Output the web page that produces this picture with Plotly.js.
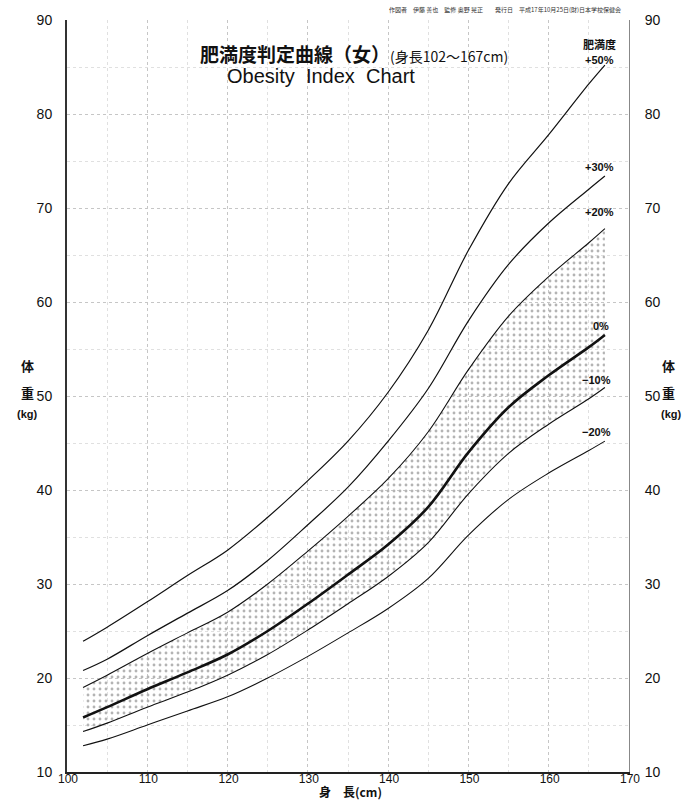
<!DOCTYPE html>
<html>
<head>
<meta charset="utf-8">
<script src="https://cdn.plot.ly/plotly-3.0.1.min.js"></script>
<style>
html,body{margin:0;padding:0;background:#fff;}
#chart{width:694px;height:802px;}
</style>
</head>
<body>
<div id="chart"></div>
<script>
// Heights (cm)
const heights = [102,105,110,115,120,125,130,135,140,145,150,155,160,165,167];
// Weights (kg) for each obesity-degree curve
const plus50  = [23.9,25.4,28.1,30.9,33.6,37.1,41.0,45.2,50.4,57.0,65.5,72.6,77.8,83.2,85.2];
const plus30  = [20.8,22.0,24.5,26.9,29.3,32.5,36.3,40.3,45.2,50.8,58.0,64.0,68.4,72.0,73.4];
const plus20  = [19.0,20.3,22.6,24.8,27.0,30.0,33.5,37.2,41.2,46.2,52.8,58.5,62.7,66.3,67.8];
const zero    = [15.8,16.9,18.8,20.6,22.5,25.0,27.9,31.0,34.2,38.2,44.0,48.8,52.2,55.2,56.5];
const minus10 = [14.3,15.2,16.9,18.5,20.3,22.5,25.1,27.9,30.8,34.4,39.6,43.9,47.0,49.7,50.9];
const minus20 = [12.8,13.5,15.0,16.5,18.0,20.0,22.3,24.8,27.4,30.6,35.2,39.0,41.8,44.2,45.2];
const curveLabels = ['+50%','+30%','+20%','0%','\u221210%','\u221220%'];
const xTicks = [100,110,120,130,140,150,160,170];
const yTicks = [10,20,30,40,50,60,70,80,90];

const jp = '"Noto Sans CJK JP", "Noto Sans", sans-serif';
const ar = 'Arial, "Liberation Sans", sans-serif';

function line(y, w, name){
  return {x: heights, y: y, mode:'lines', name: name, hoverinfo:'skip',
    line:{color:'#111', width:w, shape:'spline', smoothing:1}};
}
const traces = [
  // shaded band (+20% to -10%)
  {x: heights, y: plus20, mode:'lines', line:{width:0, shape:'spline', smoothing:1}, hoverinfo:'skip', showlegend:false},
  {x: heights, y: minus10, mode:'lines', line:{width:0, shape:'spline', smoothing:1}, hoverinfo:'skip', showlegend:false,
   fill:'tonexty', fillcolor:'rgba(255,255,255,0)',
   fillpattern:{shape:'.', size:6, solidity:0.18, fgcolor:'#b4b4b4', bgcolor:'rgba(255,255,255,0)'}},
  line(plus50, 1.2, curveLabels[0]),
  line(plus30, 1.2, curveLabels[1]),
  line(plus20, 1.1, curveLabels[2]),
  line(zero, 2.6, curveLabels[3]),
  line(minus10, 1.1, curveLabels[4]),
  line(minus20, 1.1, curveLabels[5]),
  {x:[heights[0]], y:[zero[0]], yaxis:'y2', mode:'markers', marker:{opacity:0}, hoverinfo:'skip', showlegend:false}
];

const gridStyle = {gridcolor:'#c6c6c6', griddash:'dot', gridwidth:1};
const minorStyle = {showgrid:true, gridcolor:'#e0e0e0', griddash:'dot', gridwidth:1};
const layout = {
  width:694, height:802,
  margin:{l:67, r:65, t:20, b:30},
  paper_bgcolor:'#fff', plot_bgcolor:'#fff',
  showlegend:false,
  font:{family:ar, size:14, color:'#111'},
  xaxis:{range:[100,170], tickvals:xTicks, ticktext:xTicks.map(String), showline:true, linecolor:'#222', linewidth:2,
    ticks:'', zeroline:false, ...gridStyle, ticklabelstandoff:0, ticklabelshift:1,
    minor:{dtick:5, tick0:100, ...minorStyle},
    tickfont:{family:ar, size:12, color:'#111'}},
  yaxis:{range:[10,90], tickvals:yTicks, ticktext:yTicks.map(String), showline:true, linecolor:'#333', linewidth:2,
    ticks:'', zeroline:false, ...gridStyle, ticklabelstandoff:10,
    minor:{dtick:5, tick0:10, ...minorStyle},
    tickfont:{family:ar, size:14, color:'#111'}},
  yaxis2:{range:[10,90], overlaying:'y', side:'right', tickvals:yTicks, ticktext:yTicks.map(String),
    showline:true, linecolor:'#888', linewidth:1, showgrid:false, zeroline:false, ticks:'', ticklabelstandoff:12,
    tickfont:{family:ar, size:14, color:'#111'}},
  annotations:[
    {xref:'paper', yref:'paper', x:0.51, y:0.955, xanchor:'center', yanchor:'middle', showarrow:false,
     text:'<b>肥満度判定曲線（女）</b><span style="font-size:14px">(身長102～167cm)</span>',
     font:{family:jp, size:19, color:'#111'}},
    {xref:'paper', yref:'paper', x:0.452, y:0.926, xanchor:'center', yanchor:'middle', showarrow:false,
     text:'Obesity\u00a0 Index\u00a0 Chart', font:{family:ar, size:20, color:'#111'}},
    {xref:'paper', yref:'paper', x:0.99, y:1.005, xanchor:'right', yanchor:'bottom', showarrow:false,
     text:'作図者　伊藤 善也　監修 奥野 晃正　　発行日　平成17年10月25日(財)日本学校保健会', font:{family:jp, size:6, color:'#333'}},
    // curve labels
    {x:166.3, y:87.5, text:'<b>肥満度</b>', showarrow:false, xanchor:'center', yanchor:'middle', font:{family:jp, size:11}},
    {x:166.3, y:85.7, text:'<b>'+curveLabels[0]+'</b>', showarrow:false, xanchor:'center', yanchor:'middle', font:{family:ar, size:11}},
    {x:166.3, y:74.4, text:'<b>'+curveLabels[1]+'</b>', showarrow:false, xanchor:'center', yanchor:'middle', font:{family:ar, size:11}},
    {x:166.3, y:69.6, text:'<b>'+curveLabels[2]+'</b>', showarrow:false, xanchor:'center', yanchor:'middle', font:{family:ar, size:11}},
    {x:166.5, y:57.4, text:'<b>'+curveLabels[3]+'</b>', showarrow:false, xanchor:'center', yanchor:'middle', font:{family:ar, size:11}},
    {x:166.0, y:51.7, text:'<b>'+curveLabels[4]+'</b>', showarrow:false, xanchor:'center', yanchor:'middle', font:{family:ar, size:11}},
    {x:166.0, y:46.2, text:'<b>'+curveLabels[5]+'</b>', showarrow:false, xanchor:'center', yanchor:'middle', font:{family:ar, size:11}},
    // axis titles
    {xref:'paper', yref:'paper', x:-0.07, y:0.540, text:'<b>体</b>', showarrow:false, xanchor:'center', yanchor:'middle', font:{family:jp, size:13}},
    {xref:'paper', yref:'paper', x:-0.07, y:0.505, text:'<b>重</b>', showarrow:false, xanchor:'center', yanchor:'middle', font:{family:jp, size:13}},
    {xref:'paper', yref:'paper', x:-0.07, y:0.476, text:'<b>(kg)</b>', showarrow:false, xanchor:'center', yanchor:'middle', font:{family:ar, size:11}},
    {xref:'paper', yref:'paper', x:1.07, y:0.540, text:'<b>体</b>', showarrow:false, xanchor:'center', yanchor:'middle', font:{family:jp, size:13}},
    {xref:'paper', yref:'paper', x:1.07, y:0.505, text:'<b>重</b>', showarrow:false, xanchor:'center', yanchor:'middle', font:{family:jp, size:13}},
    {xref:'paper', yref:'paper', x:1.075, y:0.476, text:'<b>(kg)</b>', showarrow:false, xanchor:'center', yanchor:'middle', font:{family:ar, size:11}},
    {xref:'paper', yref:'paper', x:0.505, y:-0.0395, yanchor:'bottom', text:'<b>身　長(cm)</b>', showarrow:false, xanchor:'center', font:{family:jp, size:12}}
  ]
};
Plotly.newPlot('chart', traces, layout, {staticPlot:true, displayModeBar:false}).then(function(gd){
  // nudge the x tick labels a little closer to the axis line, as in the reference
  gd.querySelectorAll('.xaxislayer-above').forEach(function(g){ g.setAttribute('transform','translate(0,-5)'); });
});
</script>
</body>
</html>
